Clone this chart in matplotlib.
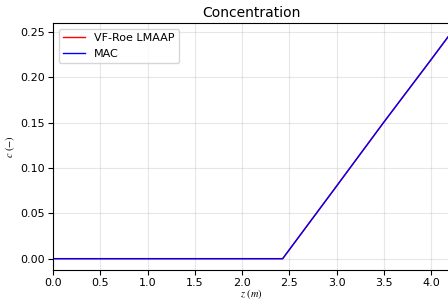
import numpy as np
import matplotlib.pyplot as plt

plt.rcParams['mathtext.fontset'] = 'stix'

# profil koncentracji
z = [0.0, 1.0, 2.0, 2.43, 3.0, 3.5, 4.0, 4.2]
c_roe = [0.0, 0.0, 0.0, 0.0, 0.0800, 0.1505, 0.2195, 0.2475]
c_mac = [0.0, 0.0, 0.0, 0.0, 0.0800, 0.1505, 0.2195, 0.2475]

fig = plt.figure(figsize=(4.48, 3.0), dpi=100)
ax = fig.add_axes([53 / 448, 30 / 300, 396 / 448, 247 / 300])
ax.plot(z, c_roe, color='red', lw=1, label='VF-Roe LMAAP')
ax.plot(z, c_mac, color='blue', lw=1, label='MAC')
ax.set_xlim(0, 4.19)
ax.set_ylim(-0.0125, 0.26)
ax.set_xticks(np.arange(0, 4.01, 0.5))
ax.tick_params(labelsize=8, length=3.5, pad=2.5)
ax.grid(alpha=0.3)
ax.set_title('Concentration', fontsize=10, pad=4.5)
ax.set_xlabel(r'$z\ (m)$', fontsize=7.5, labelpad=-0.5)
ax.set_ylabel(r'$c\ (-)$', fontsize=7.5, labelpad=2)
ax.legend(loc='upper left', fontsize=8)

fig.savefig('out.png')
